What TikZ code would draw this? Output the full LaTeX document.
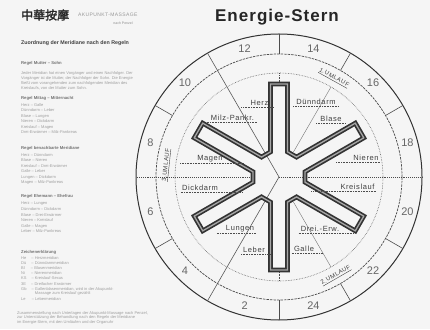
\documentclass[tikz,border=0pt]{standalone}
\usepackage{fontspec}
\setmainfont{Liberation Sans}
\newfontfamily\cjkfont[FakeBold=2]{Noto Sans CJK TC}
\newfontfamily\titlefont[LetterSpace=6]{Liberation Sans}
\newfontfamily\labelfont[LetterSpace=8]{Liberation Sans}

\begin{document}
\begin{tikzpicture}[x=1pt, y=1pt,
  organ/.style={font=\labelfont\fontsize{7.5}{8}\selectfont, text=black!75, inner sep=1pt},
  uline/.style={densely dotted, draw=black!70, line width=0.6pt},
  hour/.style={font=\fontsize{11}{12}\selectfont, text=black!60},
  umlauf/.style={font=\labelfont\fontsize{6}{7}\selectfont, text=black!75, inner sep=0.5pt},
  note/.style={font=\fontsize{4}{5}\selectfont, text=black!38, anchor=west, inner sep=0pt},
  rule/.style={font=\bfseries\fontsize{4.2}{5}\selectfont, text=black!55, anchor=west, inner sep=0pt},
  starline/.style={draw=black!80, line width=1.7pt, double=black!35, double distance=1.3pt, line join=miter},
]
\useasboundingbox (0,0) rectangle (430,329);
\fill[black!4] (0,0) rectangle (430,329);

% header
\node[font=\cjkfont\fontsize{12}{13}\selectfont, text=black!85, anchor=west, inner sep=0pt] (cjk) at (21,314) {中華按摩};
\node[font=\labelfont\fontsize{5}{6}\selectfont, text=black!40, anchor=west, inner sep=0pt] (apm) at (78,314) {AKUPUNKT-MASSAGE};
\node[font=\fontsize{3.5}{4}\selectfont, text=black!45, inner sep=0pt] (penzel) at (123,306) {nach Penzel};
\node[font=\bfseries\fontsize{5.3}{6}\selectfont, text=black!75, anchor=west, inner sep=0pt] (zuord) at (21,286) {Zuordnung der Meridiane nach den Regeln};
\node[font=\titlefont\bfseries\fontsize{17}{18}\selectfont, text=black!85] (title) at (277,312) {Energie-Stern};

% rules on the left
\node[rule] (r1) at (21,266) {Regel Mutter -- Sohn};
\node[note] at (21,256) {Jeder Meridian hat einen Vorgänger und einen Nachfolger. Der};
\node[note] at (21,251) {Vorgänger ist die Mutter, der Nachfolger der Sohn. Die Energie};
\node[note] at (21,246) {fließt vom vorangehenden zum nachfolgenden Meridian des};
\node[note] at (21,241) {Kreislaufs, von der Mutter zum Sohn.};
\node[rule] (r2) at (21,231) {Regel Mittag -- Mitternacht};
\node[note] at (21,224) {Herz -- Galle};
\node[note] at (21,218.5) {Dünndarm -- Leber};
\node[note] at (21,213) {Blase -- Lungen};
\node[note] at (21,207.5) {Nieren -- Dickdarm};
\node[note] at (21,202) {Kreislauf -- Magen};
\node[note] at (21,196.5) {Drei-Erwärmer -- Milz-Pankreas};
\node[rule] (r3) at (21,181) {Regel benachbarte Meridiane};
\node[note] at (21,174) {Herz -- Dünndarm};
\node[note] at (21,168.5) {Blase -- Nieren};
\node[note] at (21,163) {Kreislauf -- Drei-Erwärmer};
\node[note] at (21,157.5) {Galle -- Leber};
\node[note] at (21,152) {Lungen -- Dickdarm};
\node[note] at (21,146.5) {Magen -- Milz-Pankreas};
\node[rule] (r4) at (21,133) {Regel Ehemann -- Ehefrau};
\node[note] at (21,125) {Herz -- Lungen};
\node[note] at (21,119.5) {Dünndarm -- Dickdarm};
\node[note] at (21,114) {Blase -- Drei-Erwärmer};
\node[note] at (21,108.5) {Nieren -- Kreislauf};
\node[note] at (21,103) {Galle -- Magen};
\node[note] at (21,97.5) {Leber -- Milz-Pankreas};
\node[rule] (r5) at (21,77) {Zeichenerklärung};
\node[note] at (21,71) {He \quad -- Herzmeridian};
\node[note] at (21,66) {Dü \quad -- Dünndarmmeridian};
\node[note] at (21,61) {Bl \quad\ -- Blasenmeridian};
\node[note] at (21,56) {Ni \quad\ -- Nierenmeridian};
\node[note] at (21,50.5) {KS \quad -- Kreislauf-Sexus};
\node[note] at (21,45) {3E \quad -- Dreifacher Erwärmer};
\node[note] at (21,40) {Gb \quad -- Gallenblasenmeridian, wird in der Akupunkt-};
\node[note] at (21,35.5) {\phantom{Gb \quad -- }Massage zum Kreislauf gezählt};
\node[note] at (21,30) {Le \quad\ -- Lebermeridian};
\node[note] at (17,16) {Zusammenstellung nach Unterlagen der Akupunkt-Massage nach Penzel,};
\node[note] at (17,11.5) {zur Unterstützung der Behandlung nach den Regeln der Meridiane};
\node[note] at (17,7) {im Energie-Stern, mit den Umläufen und der Organuhr};

% rings
\begin{scope}[shift={(279,152)}]
\draw[black!80, line width=1pt] (0,0) circle[radius=143];
\draw[black!70, line width=0.7pt, dash pattern=on 2.5pt off 1pt] (0,0) circle[radius=123];
\draw[black!60, line width=0.6pt, densely dotted] (0,0) circle[radius=104];
\foreach \a in {30,60,90,150,210,270,300,330}
  \draw[black!70, line width=0.6pt] (\a:123) -- (\a:143);
\foreach \n in {2,4,...,24}
  \node[hour] at ({285-15*\n}:133) {\n};

% sector lines
\draw[black!65, line width=0.6pt] (0,0) -- (120:143);
\draw[black!65, line width=0.6pt] (0,0) -- (240:143);
\draw[black!70, line width=0.9pt, densely dotted] (0,0) -- (0:143);
\draw[black!70, line width=0.9pt, densely dotted] (180:29) -- (180:143);
\draw[black!55, line width=0.4pt] (60:29) -- (60:104);
\draw[black!55, line width=0.4pt] (-60:29) -- (-60:104);
\draw[black!70, line width=0.6pt, densely dotted] (90:95) -- (90:104);
\draw[black!70, line width=0.6pt, densely dotted] (-90:95) -- (-90:104);

% star
\draw[starline] (228.7:26.52)
  \foreach \t in {-90,-30,30,90,150} {
    -- (\t-18.7:26.52) -- (\t-5.22:93.39) -- (\t+5.22:93.39) -- (\t+18.7:26.52)}
  -- (191.3:26.52) -- (204.78:93.39) -- (215.22:93.39) -- cycle;

% rounds
\node[umlauf, rotate=-29] (um1) at (61:113) {\underline{1.UMLAUF}};
\node[umlauf, rotate=84] (um3) at (174:113) {\underline{3.UMLAUF}};
\node[umlauf, rotate=30] (um2) at (-60:114) {\underline{2.UMLAUF}};
\end{scope}

% organs
\node[organ] (herz) at (259.5,226) {Herz};
\node[organ] (duenn) at (316,227) {Dünndarm};
\node[organ] (milz) at (232.5,211) {Milz-Pankr.};
\node[organ] (blase) at (331,210) {Blase};
\node[organ] (magen) at (210,170) {Magen};
\node[organ] (niere) at (366,171) {Nieren};
\node[organ] (dick) at (200,141) {Dickdarm};
\node[organ] (kreis) at (357.5,142) {Kreislauf};
\node[organ] (lunge) at (240,100) {Lungen};
\node[organ] (drei) at (320,100) {Drei.-Erw.};
\node[organ] (leber) at (254,79) {Leber};
\node[organ] (galle) at (304,80) {Galle};

\draw[uline] ([xshift=-8pt]herz.south west) -- ([xshift=5pt]herz.south east);
\draw[uline] ([xshift=-2pt]duenn.south west) -- ([xshift=2pt]duenn.south east);
\draw[uline] ([xshift=-3pt]milz.south west) -- ([xshift=2pt]milz.south east);
\draw[uline] ([xshift=-3pt]blase.south west) -- ([xshift=3pt]blase.south east);
\draw[uline] ([xshift=-16pt]magen.south west) -- ([xshift=20pt]magen.south east);
\draw[uline] ([xshift=-16pt]niere.south west) -- ([xshift=1pt]niere.south east);
\draw[uline] (dick.south west) -- ([xshift=24pt]dick.south east);
\draw[uline] ([xshift=-28pt]kreis.south west) -- ([xshift=1pt]kreis.south east);
\draw[uline] ([xshift=-8pt]lunge.south west) -- ([xshift=1pt]lunge.south east);
\draw[uline] ([xshift=-1pt]drei.south west) -- ([xshift=14pt]drei.south east);
\draw[uline] ([xshift=-1pt]leber.south west) -- ([xshift=4pt]leber.south east);
\draw[uline] ([xshift=-1pt]galle.south west) -- ([xshift=8pt]galle.south east);
\end{tikzpicture}
\end{document}
